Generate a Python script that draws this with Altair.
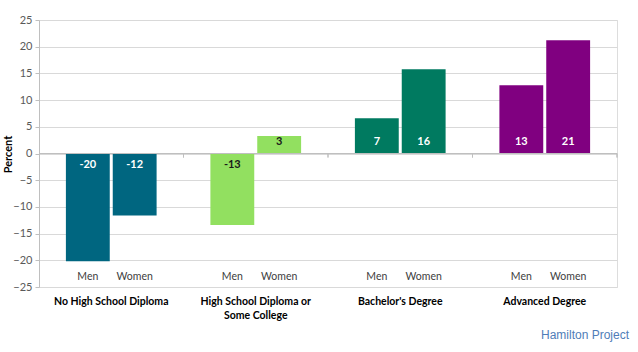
import altair as alt
import pandas as pd

groups = ["No High School Diploma", "High School Diploma or Some College",
          "Bachelor's Degree", "Advanced Degree"]
sexes = ["Men", "Women"]
men_values = [-20.2, -13.4, 6.6, 12.8]
women_values = [-11.6, 3.3, 15.8, 21.2]
group_colors = ["#006680", "#92E060", "#007A60", "#800080"]
label_colors = ["white", "#1a1a1a", "white", "white"]
y_ticks = [-25, -20, -15, -10, -5, 0, 5, 10, 15, 20, 25]

rows = []
for i, g in enumerate(groups):
    for s, v in zip(sexes, [men_values[i], women_values[i]]):
        rows.append({"group": g, "sex": s, "value": v,
                     "label": str(int(round(v))), "tc": label_colors[i]})
df = pd.DataFrame(rows)

FONT = "Lato"

x_axis = alt.Axis(title=None, domain=False, ticks=False, labelAngle=0,
                  labelFont=FONT, labelFontWeight="bold", labelFontSize=10.5,
                  labelColor="#000000", labelPadding=9, labelLineHeight=14,
                  labelLimit=200,
                  labelExpr="datum.label == 'High School Diploma or Some College' ? ['High School Diploma or', 'Some College'] : datum.label")
x_scale = alt.Scale(paddingInner=0, paddingOuter=0)
y_axis = alt.Axis(title="Percent", values=y_ticks, grid=True,
                  gridColor="#D9D9D9", domainColor="#BFBFBF",
                  tickColor="#BFBFBF", tickSize=4,
                  labelOverlap=False, labelFlush=False,
                  labelFont=FONT, labelFontSize=11, labelColor="#595959",
                  labelPadding=3,
                  titleFont=FONT, titleFontSize=11, titleFontWeight="bold",
                  titleColor="#000000", titleX=-31, titleY=134,
                  titleAngle=270, titleAlign="center", titleBaseline="middle")
y_scale = alt.Scale(domain=[-25, 25], nice=False, zero=False)
xo = alt.XOffset("sex:N", sort=sexes,
                 scale=alt.Scale(paddingInner=0.064, paddingOuter=0.574))


def X(**kw):
    return alt.X("group:N", sort=groups, scale=x_scale, axis=x_axis, **kw)


base = alt.Chart(df)

bars = base.mark_bar().encode(
    x=X(),
    xOffset=xo,
    y=alt.Y("value:Q", scale=y_scale, axis=y_axis),
    y2=alt.datum(0),
    color=alt.Color("group:N", scale=alt.Scale(domain=groups, range=group_colors),
                    legend=None),
)

zero_line = base.mark_rule(color="#BFBFBF", strokeWidth=1).encode(
    y=alt.Y(datum=0, scale=y_scale, axis=y_axis))

ticks = base.mark_rule(color="#BFBFBF", strokeWidth=1).encode(
    x=X(bandPosition=1),
    y=alt.Y(datum=0, scale=y_scale, axis=y_axis),
    y2=alt.datum(-0.75),
)

value_labels = base.transform_calculate(
    ly="datum.value > 0 ? 2.1 : -2.1"
).mark_text(font=FONT, fontSize=11, fontWeight="bold", baseline="middle").encode(
    x=X(),
    xOffset=xo,
    y=alt.Y("ly:Q", scale=y_scale, axis=y_axis),
    text="label:N",
    color=alt.Color("tc:N", scale=None),
)

sex_labels = base.mark_text(font=FONT, fontSize=10.5, color="#404040",
                            baseline="middle").encode(
    x=X(),
    xOffset=xo,
    y=alt.Y(datum=-23.2, scale=y_scale, axis=y_axis),
    text="sex:N",
)

credit = alt.Chart(pd.DataFrame({"t": ["Hamilton Project"]})).mark_text(
    font="Liberation Sans", fontSize=12, color="#4F7DB8", align="right",
    baseline="middle").encode(
    x=alt.value(590), y=alt.value(315), text="t:N")

chart = alt.layer(bars, zero_line, ticks, value_labels, sex_labels, credit).properties(
    width=578, height=267,
    autosize=alt.AutoSizeParams(type="none"),
    padding={"left": 39, "top": 20, "right": 21, "bottom": 65},
).configure_view(stroke=None).configure(background="white").configure_axisY(
    labelOverlap=False)

chart.save("out.html", embed_options={"renderer": "svg", "actions": False})
